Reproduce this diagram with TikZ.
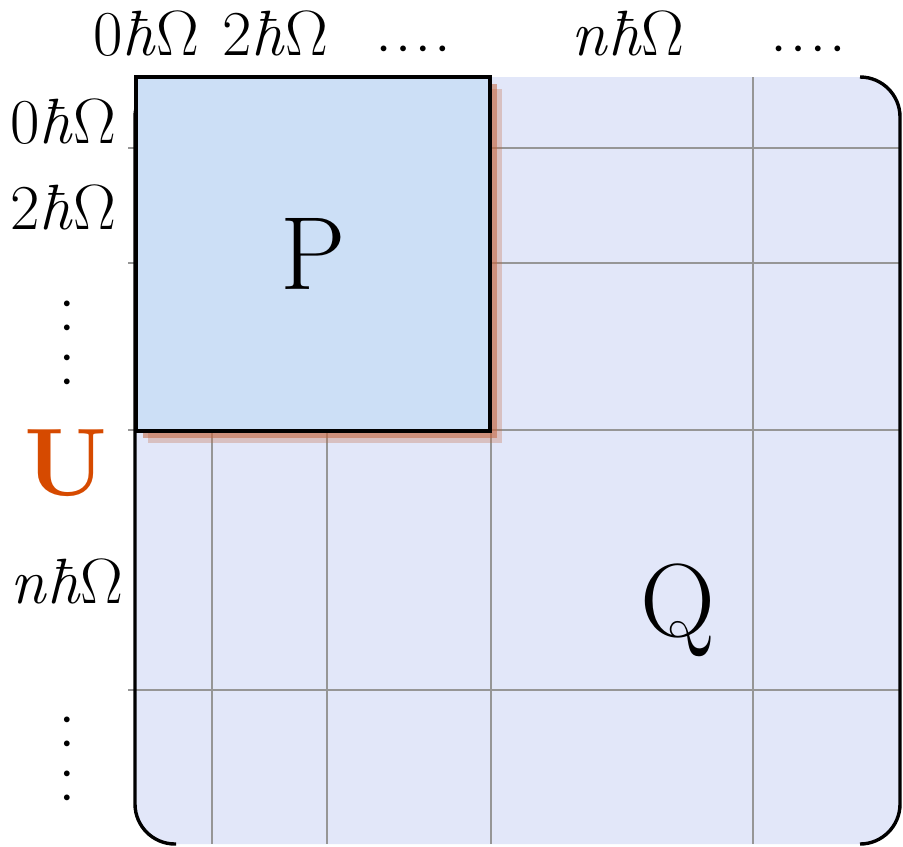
\documentclass[tikz,border=0pt]{standalone}
\usetikzlibrary{shadows}
\definecolor{umat}{RGB}{226,231,249}
\definecolor{pblk}{RGB}{204,223,246}
\definecolor{uorange}{RGB}{214,74,0}
\definecolor{shade}{RGB}{196,104,66}
\definecolor{gridgray}{RGB}{150,150,150}
\newcommand{\hbo}{\textit{ħ}Ω}
\newcommand{\hdts}{\textbullet\kern2pt\textbullet\kern2pt\textbullet\kern2pt\textbullet}
\newcommand{\vdts}{\textbullet\\\textbullet\\[3pt]\textbullet\\\textbullet}

\begin{document}
\begin{tikzpicture}[x=0.5pt, y=-0.5pt,
    lbl/.style={anchor=base, inner sep=0pt, font=\fontsize{32}{38}\selectfont},
    dts/.style={inner sep=0pt, font=\fontsize{10}{12}\selectfont},
    vdt/.style={dts, align=center},
    gline/.style={draw=gridgray, line width=1pt},
    brk/.style={line width=1.7pt, rounded corners=20pt},
    blk/.style={draw, line width=2.3pt, fill=pblk, minimum width=177pt, minimum height=177pt, font=\fontsize{52}{60}\selectfont,
        drop shadow={shadow xshift=6pt, shadow yshift=-6pt, fill=shade, opacity=0.3},
        drop shadow={shadow xshift=3.5pt, shadow yshift=-3.5pt, fill=shade, opacity=0.55}},
]
\useasboundingbox (0,0) rectangle (903,846);

% Matrix
\fill[umat, rounded corners=20pt] (135,77) rectangle (900,844);

% Grid
\draw[gline] (128,148) -- (900,148);
\draw[gline] (128,263) -- (900,263);
\draw[gline] (128,430) -- (900,430);
\draw[gline] (128,690) -- (900,690);
\draw[gline] (212,77) -- (212,844);
\draw[gline] (327,77) -- (327,844);
\draw[gline] (491,77) -- (491,844);
\draw[gline] (753,77) -- (753,844);

% Brackets
\draw[brk] (176,77) -- (135,77) -- (135,844) -- (176,844);
\draw[brk] (860,77) -- (900,77) -- (900,844) -- (860,844);

% Blocks
\node[blk] (pb) at (313,254) {P};
\node[anchor=base, font=\fontsize{52}{60}\selectfont] (qb) at (678,636) {Q};

% Column labels
\node[lbl] (c0) at (146,55) {0\hbo};
\node[lbl] (c2) at (275,55) {2\hbo};
\node[dts] (cd1) at (413,50) {\hdts};
\node[lbl] (cn) at (628,55) {\textit{n}\hbo};
\node[dts] (cd2) at (808,50) {\hdts};

% Row labels
\node[lbl] (r0) at (63,143) {0\hbo};
\node[lbl] (r2) at (63,229) {2\hbo};
\node[vdt] (rd1) at (67,344) {\vdts};
\node[anchor=base, text=uorange, font=\fontsize{48}{56}\selectfont\bfseries] (ul) at (66,495) {U};
\node[lbl] (rn) at (67,603) {\textit{n}\hbo};
\node[vdt] (rd2) at (67,760) {\vdts};
\end{tikzpicture}
\end{document}
